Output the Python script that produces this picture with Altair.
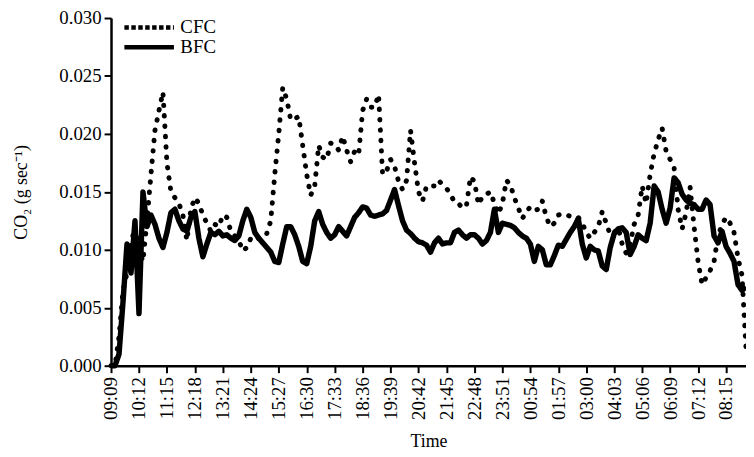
import altair as alt
import pandas as pd

# x positions: minutes after 09:09, one reading every 9 minutes
step_min = 9
tick_labels = ["09:09", "10:12", "11:15", "12:18", "13:21", "14:24", "15:27", "16:30",
               "17:33", "18:36", "19:39", "20:42", "21:45", "22:48", "23:51", "00:54",
               "01:57", "03:00", "04:03", "05:06", "06:09", "07:12", "08:15"]
tick_step_min = 63
y_ticks = [0.000, 0.005, 0.010, 0.015, 0.020, 0.025, 0.030]

# CO2 values in units of 0.001 g/sec
cfc = [0, 0, 2.5, 6.5, 8.0, 10.5, 12.0, 10.0, 9.0, 12.5,
       16.5, 20.3, 22.0, 23.6, 17.5, 15.0, 14.5, 14.0, 13.0, 10.8,
       13.5, 14.5, 14.0, 13.0, 12.3, 11.6, 12.2, 12.0, 13.0, 12.8,
       11.6, 11.2, 10.8, 9.9, 10.2, 11.0, 10.8, 11.0, 11.4, 11.4,
       12.5, 16.5, 20.0, 24.0, 23.0, 21.2, 21.3, 21.5, 19.0, 16.5,
       14.7, 15.5, 19.0, 18.0, 17.8, 19.2, 19.1, 18.6, 19.8, 18.6,
       17.6, 18.5, 18.2, 22.0, 23.0, 22.3, 22.3, 23.4, 16.5, 16.8,
       17.8, 17.2, 15.9, 15.2, 16.0, 20.3, 17.5, 15.0, 14.2, 15.5,
       15.5, 15.5, 16.0, 15.6, 15.3, 14.8, 14.1, 14.0, 13.6, 13.8,
       16.3, 15.9, 13.9, 14.6, 14.8, 15.0, 14.0, 13.1, 14.0, 16.0,
       15.6, 14.5, 13.6, 12.7, 13.3, 13.7, 13.4, 13.5, 14.2, 12.8,
       12.0, 12.3, 13.0, 13.1, 13.0, 12.9, 12.9, 12.8, 12.3, 11.5,
       11.0, 11.5, 12.0, 13.3, 12.3, 11.3, 11.5, 11.9, 10.5, 9.7,
       10.5, 12.2, 13.0, 15.5, 14.0, 16.5, 18.3, 19.5, 20.5, 18.5,
       17.8, 17.1, 13.5, 11.8, 13.2, 15.4, 12.0, 9.0, 7.0, 7.6,
       8.2, 9.0, 11.2, 12.2, 12.8, 12.3, 11.5, 9.3, 7.8, 1.5]

bfc = [0, 0, 1.0, 5.5, 10.5, 8.0, 12.5, 4.5, 15.0, 12.0,
       13.0, 12.2, 11.0, 10.2, 11.5, 13.2, 13.5, 12.5, 11.8, 11.6,
       12.8, 13.3, 11.0, 9.4, 10.5, 11.5, 11.3, 11.6, 11.2, 11.3,
       11.0, 10.8, 11.2, 12.5, 13.5, 12.8, 11.5, 11.0, 10.6, 10.2,
       9.8, 9.0, 8.9, 10.5, 12.0, 12.0, 11.3, 10.3, 9.0, 8.8,
       10.3, 12.5, 13.3, 12.2, 11.5, 11.0, 11.3, 12.0, 11.6, 11.2,
       12.0, 12.8, 13.2, 13.7, 13.6, 13.0, 12.9, 13.0, 13.1, 13.4,
       14.3, 15.2, 13.8, 12.5, 11.7, 11.4, 11.0, 10.7, 10.6, 10.4,
       9.8, 10.6, 11.0, 10.5, 10.6, 10.6, 11.5, 11.7, 11.3, 11.0,
       11.3, 11.3, 11.0, 10.5, 10.8, 11.5, 13.5, 11.5, 12.3, 12.2,
       12.1, 11.9, 11.5, 11.2, 11.0, 10.5, 9.0, 10.3, 10.0, 8.7,
       8.7, 9.5, 10.4, 10.3, 10.9, 11.5, 12.0, 12.7, 10.5, 9.3,
       10.3, 10.0, 9.9, 8.6, 8.3, 10.2, 11.4, 11.8, 11.9, 11.5,
       9.6, 10.3, 11.3, 11.0, 10.8, 12.3, 15.5, 15.0, 13.5, 12.3,
       13.6, 16.2, 15.8, 14.8, 14.3, 14.0, 13.9, 13.5, 13.5, 14.3,
       13.9, 11.2, 10.6, 11.6, 10.3, 9.7, 9.0, 7.0, 6.5, 6.8]

n = len(cfc)
minutes = [i * step_min for i in range(n)]
df_c = pd.DataFrame({"minute": minutes, "value": [v / 1000 for v in cfc], "series": "CFC"})
df_b = pd.DataFrame({"minute": minutes, "value": [v / 1000 for v in bfc], "series": "BFC"})

tick_values = [i * tick_step_min for i in range(len(tick_labels))]
label_expr = "[" + ",".join('"%s"' % t for t in tick_labels) + "][round(datum.value/%d)]" % tick_step_min

FONT = "Liberation Serif"

x_enc = alt.X("minute:Q",
              scale=alt.Scale(domain=[0, minutes[-1]], nice=False, zero=False),
              axis=alt.Axis(values=tick_values, labelExpr=label_expr, labelAngle=270,
                            title="Time", titlePadding=13, labelPadding=4,
                            grid=False))
y_enc = alt.Y("value:Q",
              scale=alt.Scale(domain=[0, 0.03], nice=False),
              axis=alt.Axis(values=y_ticks, format=".3f", title="CO₂ (g sec⁻¹)",
                            titlePadding=29, grid=False, labelPadding=3))

cfc_layer = alt.Chart(df_c).mark_line(
    color="black", strokeWidth=5, strokeCap="round", strokeJoin="round", strokeDash=[0.5, 10]
).encode(x=x_enc, y=y_enc)

bfc_layer = alt.Chart(df_b).mark_line(
    color="black", strokeWidth=5.5, strokeJoin="round"
).encode(
    x=x_enc, y=y_enc,
    strokeDash=alt.StrokeDash("series:N",
                              scale=alt.Scale(domain=["CFC", "BFC"], range=[[4.5, 2.5], [1, 0]]),
                              legend=alt.Legend(title=None, orient="none", legendX=29, legendY=0,
                                                symbolType="M-5,0H5", symbolSize=100,
                                                symbolStrokeWidth=4.5, symbolStrokeColor="black",
                                                labelFontSize=19, labelFont=FONT, labelOffset=22,
                                                padding=0, rowPadding=0))
)

chart = alt.layer(cfc_layer, bfc_layer).properties(
    width=641, height=351,
    autosize=alt.AutoSizeParams(type="none"),
    padding={"left": 104, "top": 8, "right": 0, "bottom": 85},
).configure_view(stroke=None).configure_axis(
    labelFont=FONT, titleFont=FONT, labelFontSize=19, titleFontSize=18,
    labelColor="black", titleColor="black", titleFontWeight="normal",
    domainColor="black", domainWidth=2.5, tickColor="black", tickWidth=2, tickSize=7,
)

chart.save("out.html", embed_options={"renderer": "svg", "actions": False})
